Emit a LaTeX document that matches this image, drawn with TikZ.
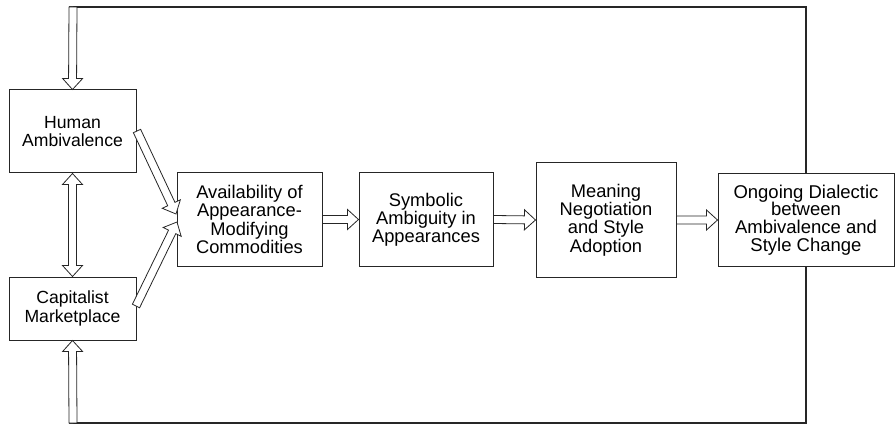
\documentclass[tikz,border=0pt]{standalone}
\usepackage{fontspec}
\setmainfont{Liberation Sans}
\usetikzlibrary{calc}

\tikzset{
  box/.style={draw=black!85, line width=1pt, rectangle, inner sep=0pt, align=center,
              font=\fontsize{18.3}{18.2}\selectfont},
  hollow/.style={draw=black!85, line width=0.8pt, fill=white, line join=miter},
  feedback/.style={draw=black!85, line width=1.1pt}
}

% hollow block arrow from #1 (tail) to #2 (tip)
\newcommand{\harrow}[2]{%
  \coordinate (ha) at (#1); \coordinate (hb) at (#2);
  \coordinate (hh) at ($(hb)!11pt!(ha)$);
  \draw[hollow] ($(ha)!4pt!90:(hb)$) -- ($(hh)!4pt!90:(hb)$) -- ($(hh)!10pt!90:(hb)$)
    -- (hb) -- ($(hh)!10pt!-90:(hb)$) -- ($(hh)!4pt!-90:(hb)$) -- ($(ha)!4pt!-90:(hb)$) -- cycle;}

% hollow block arrow with heads at both ends
\newcommand{\dharrow}[2]{%
  \coordinate (ha) at (#1); \coordinate (hb) at (#2);
  \coordinate (hh) at ($(hb)!11pt!(ha)$);
  \coordinate (hg) at ($(ha)!11pt!(hb)$);
  \draw[hollow] (ha) -- ($(hg)!10pt!-90:(ha)$) -- ($(hg)!4pt!-90:(ha)$)
    -- ($(hh)!4pt!90:(hb)$) -- ($(hh)!10pt!90:(hb)$) -- (hb)
    -- ($(hh)!10pt!-90:(hb)$) -- ($(hh)!4pt!-90:(hb)$)
    -- ($(hg)!4pt!90:(ha)$) -- ($(hg)!10pt!90:(ha)$) -- cycle;}

\begin{document}
\begin{tikzpicture}[x=1pt, y=-1pt]
  \useasboundingbox (0,0) rectangle (895,425);

  % boxes
  \node[box, minimum width=127pt, minimum height=83pt, font=\fontsize{17.6}{18.4}\selectfont] (H) at (72.5,131.5) {Human\\Ambivalence};
  \node[box, minimum width=127pt, minimum height=63pt, font=\fontsize{17.6}{18.4}\selectfont] (C) at (72.5,308.5) {Capitalist\\Marketplace};
  \node[box, minimum width=145pt, minimum height=93pt] (Av) at (249.5,219.5)
    {Availability of\\Appearance-\\Modifying\\Commodities};
  \node[box, minimum width=134pt, minimum height=93pt] (Sy) at (426,219.5)
    {Symbolic\\Ambiguity in\\Appearances};
  \node[box, minimum width=140pt, minimum height=114pt] (Me) at (606,220)
    {Meaning\\Negotiation\\and Style\\Adoption};
  \node[box, minimum width=176pt, minimum height=93pt, font=\fontsize{18.5}{17.7}\selectfont] (On) at (806,220)
    {Ongoing Dialectic\\between\\Ambivalence and\\Style Change};

  % feedback loop
  \coordinate (fbTop) at (69,7);
  \coordinate (fbBot) at (69,423);
  \coordinate (tTail) at (73,7);
  \coordinate (bTail) at (73,423);
  \draw[feedback] (On.north) |- (fbTop);
  \draw[feedback] (On.south) |- (fbBot);
  \harrow{tTail}{H.north}
  \harrow{bTail}{C.south}

  % between the two source boxes
  \dharrow{H.south}{C.north}

  % sources into commodities
  \coordinate (uTail) at (137,131);
  \coordinate (uTip) at (176,214);
  \coordinate (lTail) at (136,306);
  \coordinate (lTip) at (177,222);
  \harrow{uTail}{uTip}
  \harrow{lTail}{lTip}

  % main chain
  \harrow{Av.east}{Sy.west}
  \harrow{Sy.east}{Me.west}
  \harrow{Me.east}{On.west}
\end{tikzpicture}
\end{document}
